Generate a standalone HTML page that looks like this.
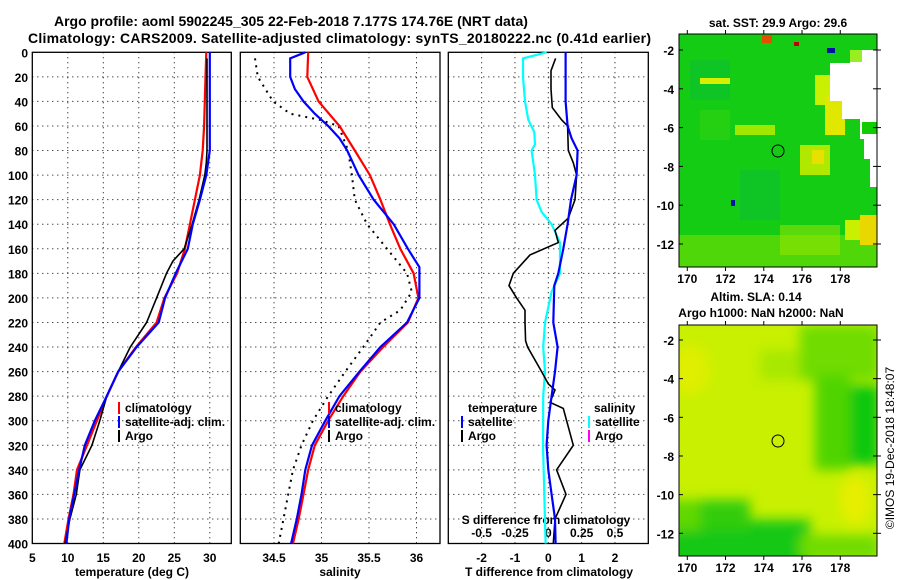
<!DOCTYPE html>
<html><head><meta charset="utf-8">
<style>
html,body{margin:0;padding:0;background:#fff;}
svg{display:block;font-family:"Liberation Sans",Arial,sans-serif;font-weight:bold;}
</style></head>
<body>
<svg id="chart" width="900" height="580" viewBox="0 0 900 580" xmlns="http://www.w3.org/2000/svg">
<defs>
<filter id="blur2" x="0" y="0" width="100%" height="100%"><feGaussianBlur stdDeviation="6"/></filter>
<clipPath id="m1clip"><rect x="679" y="34" width="198" height="233"/></clipPath>
<clipPath id="m2clip"><rect x="679" y="325" width="198" height="231"/></clipPath>
</defs>
<text x="54" y="26" font-size="14">Argo profile: aoml 5902245_305 22-Feb-2018 7.177S 174.76E (NRT data)</text>
<text x="28" y="43" font-size="14" textLength="623">Climatology: CARS2009. Satellite-adjusted climatology: synTS_20180222.nc (0.41d earlier)</text>
<g id="plots"></g>

<!-- map 1: SST -->
<g>
<text x="778" y="27" font-size="12" text-anchor="middle">sat. SST: 29.9 Argo: 29.6</text>
<g clip-path="url(#m1clip)">
<rect x="679" y="34" width="198" height="233" fill="#14cc14"/>
<rect x="690" y="60" width="40" height="40" fill="#0cc030" opacity="0.6"/>
<rect x="740" y="170" width="40" height="50" fill="#0cc030" opacity="0.6"/>
<rect x="700" y="110" width="30" height="30" fill="#30d010" opacity="0.6"/>
<rect x="679" y="235" width="198" height="32" fill="#80e000" opacity="0.55"/>
<rect x="780" y="225" width="60" height="30" fill="#a0e800" opacity="0.5"/>
<rect x="700" y="78" width="30" height="6" fill="#d8f000"/>
<rect x="735" y="125" width="40" height="10" fill="#a0e800"/>
<rect x="815" y="75" width="20" height="30" fill="#c8f000"/>
<rect x="825" y="95" width="20" height="40" fill="#e0e800"/>
<rect x="800" y="145" width="30" height="30" fill="#b0e800"/>
<rect x="812" y="150" width="12" height="14" fill="#e8e000"/>
<rect x="845" y="220" width="25" height="20" fill="#c8f000"/>
<rect x="860" y="215" width="17" height="30" fill="#e8d800"/>
<rect x="830" y="63" width="47" height="10" fill="#fff"/>
<rect x="850" y="50" width="27" height="16" fill="#fff"/>
<rect x="830" y="73" width="47" height="28" fill="#fff"/>
<rect x="842" y="101" width="35" height="18" fill="#fff"/>
<rect x="860" y="119" width="17" height="20" fill="#fff"/>
<rect x="864" y="139" width="13" height="20" fill="#fff"/>
<rect x="870" y="159" width="7" height="28" fill="#fff"/>
<rect x="862" y="122" width="15" height="12" fill="#11cc00"/>
<rect x="850" y="50" width="12" height="12" fill="#99ee22"/>
<rect x="827" y="48" width="8" height="5" fill="#0010a0"/>
<rect x="762" y="35" width="10" height="8" fill="#e05000"/>
<rect x="794" y="42" width="5" height="4" fill="#c00000"/>
<rect x="731" y="200" width="4" height="6" fill="#0010a0"/>
</g>
<rect x="679" y="34" width="198" height="233" fill="none" stroke="#000" stroke-width="1"/>
<circle cx="778" cy="151" r="6" fill="none" stroke="#000" stroke-width="1"/>
</g>

<!-- map 2: altimetry -->
<g>
<text x="756" y="301" font-size="12" text-anchor="middle">Altim. SLA: 0.14</text>
<text x="761" y="317" font-size="12" text-anchor="middle">Argo h1000: NaN h2000: NaN</text>
<g clip-path="url(#m2clip)">
<rect x="679" y="325" width="198" height="231" fill="#c8f000"/>
<g filter="url(#blur2)">
<rect x="660" y="520" width="150" height="50" fill="#18c818"/>
<rect x="700" y="500" width="50" height="30" fill="#30cc10"/>
<rect x="660" y="500" width="40" height="30" fill="#60d800"/>
<rect x="800" y="325" width="80" height="55" fill="#70dc00"/>
<rect x="845" y="385" width="35" height="80" fill="#08c808"/>
<rect x="815" y="375" width="35" height="95" fill="#50d400"/>
<rect x="800" y="535" width="80" height="25" fill="#70dc00"/>
<rect x="760" y="350" width="40" height="30" fill="#a8e800"/>
<ellipse cx="690" cy="370" rx="20" ry="25" fill="#e0ee00"/>
<ellipse cx="855" cy="500" rx="15" ry="25" fill="#e8ee00"/>
</g>
</g>
<rect x="679" y="325" width="198" height="231" fill="none" stroke="#000" stroke-width="1"/>
<circle cx="778" cy="441" r="6" fill="none" stroke="#000" stroke-width="1"/>
<text font-size="12" font-weight="normal" transform="translate(894,448) rotate(-90)" text-anchor="middle">©IMOS 19-Dec-2018 18:48:07</text>
</g>
<g id="maptick"></g>
</svg>
<script>
// ---- data ----
const depths = [0,20,40,60,80,100,120,140,160,180,200,220,240,260,280,300,320,340,360,380,400];
const tempClim = [29.5,29.4,29.3,29.2,29.0,28.6,27.9,27.2,26.5,25.4,23.6,22.5,19.6,17.1,15.5,14.1,12.7,11.3,10.8,10.1,9.5];
const tempSat  = [30.0,30.0,30.0,30.0,30.0,29.5,28.6,27.6,26.9,25.2,23.7,22.8,19.7,17.1,15.5,13.8,12.4,11.6,10.9,10.2,9.8];
const argoDepths = [5,20,40,60,80,90,100,120,140,160,170,180,200,220,240,260,280,300,320,340,360,380,400];
const tempArgo = [29.6,29.6,29.6,29.6,29.6,29.5,29.3,28.5,27.5,26.4,24.8,23.9,22.5,21.1,18.8,17.1,15.5,14.5,13.4,11.7,11.2,10.3,9.6];
const salClim = [34.86,34.85,34.97,35.19,35.35,35.51,35.62,35.72,35.83,35.97,36.02,35.91,35.65,35.41,35.23,35.07,34.93,34.86,34.81,34.76,34.70];
const salSatDepths = [0,5,20,30,40,50,60,70,80,100,120,140,160,175,200,220,240,260,280,300,320,340,360,380,400];
const salSat = [34.83,34.67,34.67,34.72,34.81,34.93,35.07,35.19,35.27,35.39,35.55,35.76,35.91,36.03,36.03,35.90,35.62,35.40,35.19,35.04,34.90,34.83,34.79,34.74,34.68];
const salArgoDepths = [5,20,40,50,55,60,80,100,120,140,160,180,195,210,220,240,260,280,300,320,340,360,380,400];
const salArgo = [34.30,34.33,34.49,34.67,34.98,35.18,35.28,35.32,35.35,35.48,35.69,35.90,35.95,35.83,35.62,35.44,35.25,35.07,34.91,34.79,34.70,34.65,34.60,34.55];
const diffDepths = [0,20,40,60,70,80,100,120,140,160,180,190,220,240,260,280,300,320,340,360,380,400];
const tDiffSat = [0.52,0.52,0.52,0.58,0.70,0.88,0.85,0.68,0.58,0.45,0.30,0.18,0.15,0.28,0.20,0.10,0.0,-0.05,0.0,0.10,0.20,0.22];
const tDiffArgoDepths = [5,15,30,45,55,60,80,90,100,120,135,145,155,165,180,190,200,210,220,235,240,260,270,275,285,290,320,340,360,380,400];
const tDiffArgo = [0.22,0.08,0.08,0.12,0.40,0.58,0.60,0.75,0.85,0.80,0.60,0.20,0.30,-0.55,-1.05,-1.18,-0.95,-0.70,-0.70,-0.68,-0.62,-0.20,0.0,0.20,0.05,0.45,0.75,0.25,0.53,0.20,0.15];
const sDiffSatDepths = [0,5,20,40,55,65,75,80,100,120,130,140,155,180,195,220,240,260,280,320,360,400];
const sDiffSat = [-0.012,-0.19,-0.19,-0.175,-0.15,-0.105,-0.10,-0.125,-0.10,-0.088,-0.05,0.025,0.088,0.088,0.025,-0.025,-0.038,-0.025,-0.038,-0.04,-0.03,-0.02];
const depthTicks = [0,20,40,60,80,100,120,140,160,180,200,220,240,260,280,300,320,340,360,380,400];
const tempTicks = [5,10,15,20,25,30];
const salTicks = [34.5,35,35.5,36];
const tdTicks = [-2,-1,0,1,2];
const sdTicks = [-0.5,-0.25,0,0.25,0.5];
const sdTickLabels = ["-0.5","-0.25","0","0.25","0.5"];
const lonTicks = [170,172,174,176,178];
const latTicks1 = [-2,-4,-6,-8,-10,-12];

// ---- axes ----
const Y0 = 52.3, Y1 = 543.5;
const yD = d => Y0 + d*(Y1-Y0)/400;
const P1 = {x0:32.3, x1:231.3}, P2 = {x0:240.3, x1:440}, P3 = {x0:448.3, x1:648.3};
const xT = t => 32.3 + (t-5)*7.1;
const xS = s => 274 + (s-34.5)*95;
const xTD = v => 548.3 + v*33.33;
const xSD = v => 548.3 + v*133.33;
const lonX = l => 687.3 + (l-170)*19.12;
const latY1 = l => 50 + (-2-l)*19.4;
const latY2 = l => 340 + (-2-l)*19.33;

const NS = 'http://www.w3.org/2000/svg';
const root = document.getElementById('plots');
function mk(tag, attrs, parent){
  const e = document.createElementNS(NS, tag);
  for (const k in attrs) e.setAttribute(k, attrs[k]);
  (parent||root).appendChild(e);
  return e;
}
function txt(s, x, y, size, anchor, parent){
  const t = mk('text', {x:x, y:y, 'font-size':size, 'text-anchor':anchor||'start'}, parent);
  t.textContent = s;
  return t;
}
function line(xs, ds, fx, color, w, dash, name){
  const pts = xs.map((v,i)=> fx(v).toFixed(1)+','+yD(ds[i]).toFixed(1)).join(' ');
  const p = mk('polyline', {points:pts, fill:'none', stroke:color, 'stroke-width':w});
  if (dash) p.setAttribute('stroke-dasharray', dash);
  
  
  return p;
}
function panel(P, xTicks, fx, name){
  const g = mk('g', {});
  
  
  depthTicks.forEach(d=>{
    if (d>0 && d<400) mk('line', {x1:P.x0, x2:P.x1, y1:yD(d), y2:yD(d), stroke:'#000', 'stroke-width':1, 'stroke-dasharray':'1,4'}, g);
  });
  xTicks.forEach(v=>{
    const x = fx(v);
    if (x>P.x0+1 && x<P.x1-1) mk('line', {x1:x, x2:x, y1:Y0, y2:Y1, stroke:'#000', 'stroke-width':1, 'stroke-dasharray':'1,4'}, g);
  });
  mk('rect', {x:P.x0, y:Y0, width:P.x1-P.x0, height:Y1-Y0, fill:'none', stroke:'#000', 'stroke-width':1.3}, g);
  return g;
}

// Panel 1
panel(P1, tempTicks, xT, 'temperature-panel');
depthTicks.forEach(d=>{
  const t = txt(String(d), 28, yD(d)+5, 12, 'end');
  
  
});
tempTicks.forEach(v=>{
  const t = txt(String(v), xT(v), 562, 12, 'middle');
  
  
});
let at = txt('temperature (deg C)', 132, 576, 12, 'middle');


line(tempClim, depths, xT, '#ff0000', 2.2, null, 'temp-climatology-line');
line(tempArgo, argoDepths, xT, '#000', 1.6, null, 'temp-argo-line');
line(tempSat, depths, xT, '#0000ff', 2.2, null, 'temp-satellite-line');

// Panel 2
panel(P2, salTicks, xS, 'salinity-panel');
salTicks.forEach(v=>{
  const t = txt(String(v), xS(v), 562, 12, 'middle');
  
  
});
at = txt('salinity', 340, 576, 12, 'middle');


line(salArgo, salArgoDepths, xS, '#000', 2, '2,5', 'sal-argo-line');
line(salClim, depths, xS, '#ff0000', 2.2, null, 'sal-climatology-line');
line(salSat, salSatDepths, xS, '#0000ff', 2.2, null, 'sal-satellite-line');

// Panel 3
panel(P3, tdTicks, xTD, 'difference-panel');
tdTicks.forEach(v=>{
  const t = txt(String(v), xTD(v), 562, 12, 'middle');
  
  
});
sdTicks.forEach((v,i)=>{
  const t = txt(sdTickLabels[i], xSD(v), 537, 12, 'middle');
  
  
});
at = txt('T difference from climatology', 549, 576, 12, 'middle');


at = txt('S difference from climatology', 546, 524, 12, 'middle');


line(sDiffSat, sDiffSatDepths, xSD, '#00ffff', 2.2, null, 's-diff-satellite-line');
line(tDiffArgo, tDiffArgoDepths, xTD, '#000', 1.6, null, 't-diff-argo-line');
line(tDiffSat, diffDepths, xTD, '#0000ff', 2.2, null, 't-diff-satellite-line');

// Legends
function legItem(x, y, color, label, name){
  const g = mk('g', {});
  
  
  mk('rect', {x:x, y:y-10, width:2, height:12, fill:color}, g);
  txt(label, x+7, y, 12, 'start', g);
}
legItem(118, 412, '#ff0000', 'climatology', 'legend-climatology');
legItem(118, 426, '#0000ff', 'satellite-adj. clim.', 'legend-satellite-adj');
legItem(118, 440, '#000', 'Argo', 'legend-argo');
legItem(328, 412, '#ff0000', 'climatology', 'legend-climatology-sal');
legItem(328, 426, '#0000ff', 'satellite-adj. clim.', 'legend-satellite-adj-sal');
legItem(328, 440, '#000', 'Argo', 'legend-argo-sal');
let lt = txt('temperature', 468, 412, 12, 'start');


legItem(461, 426, '#0000ff', 'satellite', 'legend-t-satellite');
legItem(461, 440, '#000', 'Argo', 'legend-t-argo');
lt = txt('salinity', 594, 412, 12, 'start');


legItem(588, 426, '#00ffff', 'satellite', 'legend-s-satellite');
legItem(588, 440, '#ff00ff', 'Argo', 'legend-s-argo');

// Map ticks
const mt = document.getElementById('maptick');
[[latY1, 267, 34],[latY2, 556, 325]].forEach(([fy, yb, yt])=>{
  latTicks1.forEach(l=>{
    const y = fy(l);
    mk('line', {x1:679, x2:683, y1:y, y2:y, stroke:'#000'}, mt);
    mk('line', {x1:873, x2:881, y1:y, y2:y, stroke:'#000'}, mt);
    const t = txt(String(l), 674, y+5, 12, 'end', mt);
    
    
  });
  lonTicks.forEach(l=>{
    const x = lonX(l);
    mk('line', {x1:x, x2:x, y1:yb, y2:yb+4, stroke:'#000'}, mt);
    mk('line', {x1:x, x2:x, y1:yt-4, y2:yt, stroke:'#000'}, mt);
    const t = txt(String(l), x, yb+16, 12, 'middle', mt);
    
    
  });
});
</script>
</body></html>
